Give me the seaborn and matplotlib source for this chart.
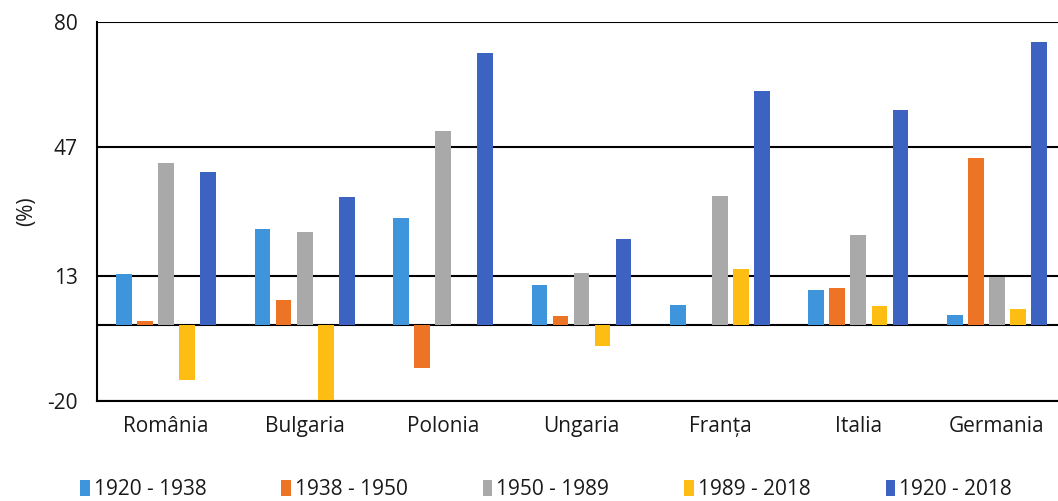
import matplotlib
matplotlib.use("Agg")
import matplotlib.pyplot as plt
import seaborn as sns
import pandas as pd

categories = ["România", "Bulgaria", "Polonia", "Ungaria", "Franța", "Italia", "Germania"]
series = ["1920 - 1938", "1938 - 1950", "1950 - 1989", "1989 - 2018", "1920 - 2018"]
v_1920_1938 = [13.6, 25.5, 28.2, 10.6, 5.3, 9.4, 2.6]
v_1938_1950 = [1.0, 6.6, -11.4, 2.5, 0.0, 9.7, 44.0]
v_1950_1989 = [42.7, 24.5, 51.2, 13.8, 34.1, 23.9, 12.8]
v_1989_2018 = [-14.5, -19.8, 0.0, -5.5, 14.7, 5.1, 4.2]
v_1920_2018 = [40.3, 33.9, 71.9, 22.8, 61.8, 56.8, 74.8]
yticks = [-20, 13, 47, 80]
colors = ["#3f95dc", "#ec7424", "#a9a9a9", "#fdbd12", "#3c62c2"]

values = [v_1920_1938, v_1938_1950, v_1950_1989, v_1989_2018, v_1920_2018]
rows = []
for s, vals in zip(series, values):
    for c, v in zip(categories, vals):
        rows.append({"country": c, "period": s, "value": v})
df = pd.DataFrame(rows)

sns.set_theme(style="white")
plt.rcParams["font.family"] = ["Open Sans", "DejaVu Sans"]
txt = "#1a1a1a"

fig = plt.figure(figsize=(10.58, 5.01), dpi=100)
ax = fig.add_axes([97/1058, 1-401/501, 969/1058, 379/501])

sns.barplot(data=df, x="country", y="value", hue="period", order=categories,
            hue_order=series, palette=colors, width=0.76, gap=0.25,
            saturation=1, linewidth=0, ax=ax, legend=True, zorder=3)

ax.set_ylim(-20, 80)
ax.set_xlim(-0.5, 6.5)
ax.set_yticks(yticks)
ax.set_yticklabels([str(t) for t in yticks], fontsize=15, color=txt)
ax.tick_params(axis="y", pad=14, length=0)
ax.tick_params(axis="x", pad=11, length=0, labelsize=15, labelcolor=txt)
ax.set_xlabel("")
ax.set_ylabel("(%)", fontsize=15, color=txt)
ax.yaxis.set_label_coords(-0.062, 0.5)

for t in yticks:
    ax.axhline(t, color="black", lw=1.5, zorder=1)
ax.axhline(0, color="black", lw=1.5, zorder=2)

for side in ["top", "right"]:
    ax.spines[side].set_visible(False)
ax.spines["left"].set_color("black")
ax.spines["left"].set_linewidth(1.5)
ax.spines["bottom"].set_color("black")
ax.spines["bottom"].set_linewidth(1.5)

handles, labels = ax.get_legend_handles_labels()
ax.get_legend().remove()
leg = fig.legend(handles, labels, loc="center", bbox_to_anchor=(76/1058, 0.0, 940/1058, 0.045),
                 mode="expand", ncol=5, frameon=False, fontsize=15,
                 handlelength=0.45, handleheight=0.75, handletextpad=0.2,
                 borderpad=0.2, borderaxespad=0)
for t in leg.get_texts():
    t.set_color(txt)

fig.savefig("out.png", dpi=100)
